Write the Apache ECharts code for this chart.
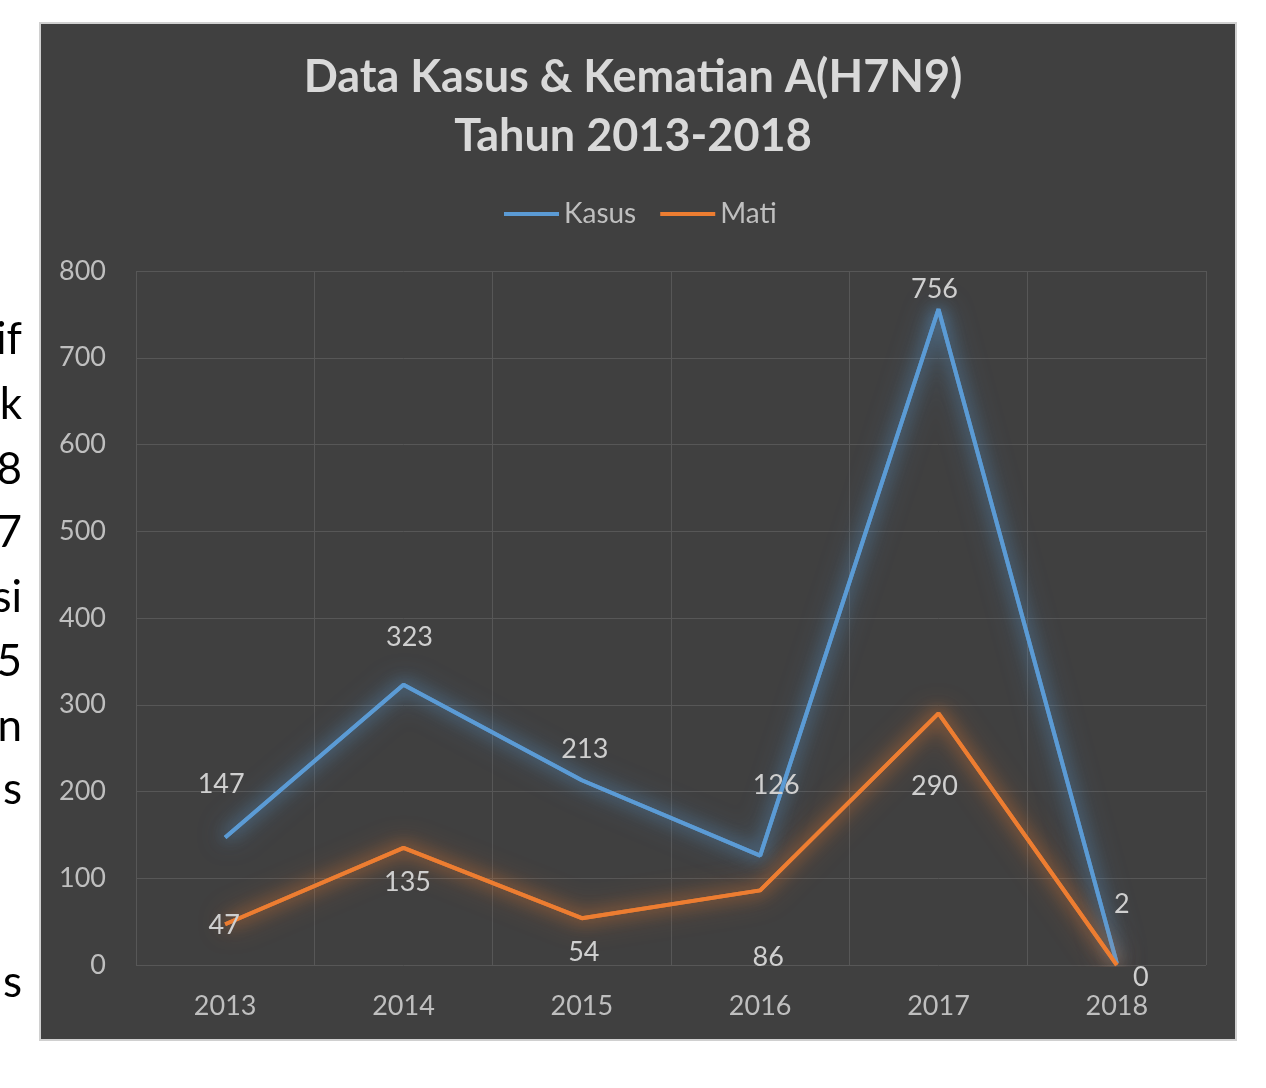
<!DOCTYPE html>
<html><head><meta charset="utf-8">
<script src="https://cdn.jsdelivr.net/npm/echarts@6/dist/echarts.min.js"></script>
<style>html,body{margin:0;padding:0;background:#fff}#c{width:1266px;height:1088px}</style>
</head><body><div id="c"></div>
<script>
const years = ['2013','2014','2015','2016','2017','2018'];
const kasus = [147, 323, 213, 126, 756, 2];
const mati = [47, 135, 54, 86, 290, 0];
const yTicks = [0, 100, 200, 300, 400, 500, 600, 700, 800];
const sideText = ['if','k','8','7','si','5','n','s','s'];

// label offsets (layout only)
const kasusOff = [[-4,-53],[6,-48],[3,-31],[16,-70],[-4,-20],[5,-59]];
const matiOff = [[-1,1],[4,34],[2,34],[8,67],[-4,73],[24,12]];
const sideY = [340,405,470,533,598,662,727,790,983];

const chart = echarts.init(document.getElementById('c'), null, {renderer:'canvas'});
const F = 'Lato, "Open Sans", sans-serif';
function mk(vals, offs){
  return vals.map((v,i)=>({value:v, label:{offset:offs[i]}}));
}
const graphics = [
  {type:'rect', z:-10, shape:{x:40,y:23,width:1196,height:1017}, style:{fill:'#404040', stroke:'#d0d0d0', lineWidth:2}}
];
sideText.forEach((t,i)=>graphics.push({type:'text', z:-10, x:22, y:sideY[i], style:{text:t, fill:'#000', font:'44px '+F, textAlign:'right', textVerticalAlign:'middle'}}));

function glow(name, vals, color, blur){
  return {name:name+'_glow', type:'line', data:vals, symbol:'none', silent:true, z:1,
    lineStyle:{color:color, width:4, shadowBlur:blur, shadowColor:color}, label:{show:false}};
}

chart.setOption({
  backgroundColor:'#ffffff',
  animation:false,
  graphic: graphics,
  title:{
    text:'Data Kasus & Kematian A(H7N9)\nTahun 2013-2018',
    left:'center', top:43,
    textStyle:{color:'#d9d9d9', fontFamily:F, fontWeight:'bold', fontSize:45, lineHeight:59}
  },
  legend:{
    top:195, left:499, itemWidth:55, itemHeight:4, itemGap:24,
    icon:'rect',
    textStyle:{color:'#bfbfbf', fontFamily:F, fontSize:28},
    data:['Kasus','Mati']
  },
  grid:{left:136, right:60, top:271, bottom:123, containLabel:false},
  xAxis:{
    type:'category', data:years, boundaryGap:true,
    axisLine:{show:false}, axisTick:{show:false},
    axisLabel:{color:'#bfbfbf', fontFamily:F, fontSize:27, margin:28},
    splitLine:{show:true, lineStyle:{color:'#575757', width:1}}
  },
  yAxis:{
    type:'value', min:0, max:800, interval:100,
    axisLine:{show:false}, axisTick:{show:false},
    axisLabel:{color:'#bfbfbf', fontFamily:F, fontSize:27, margin:30},
    splitLine:{show:true, lineStyle:{color:'#575757', width:1}}
  },
  series:[
    glow('Kasus', kasus, 'rgba(91,155,213,0.9)', 28),
    glow('Mati', mati, 'rgba(237,125,49,0.9)', 28),
    {name:'Kasus', type:'line', data:mk(kasus,kasusOff), symbol:'circle', symbolSize:0.1, z:3,
     itemStyle:{color:'#5b9bd5'},
     lineStyle:{color:'#5b9bd5', width:4, shadowBlur:16, shadowColor:'rgba(91,155,213,0.8)'},
     label:{show:true, position:'inside', color:'#cfcfcf', fontFamily:F, fontSize:27}},
    {name:'Mati', type:'line', data:mk(mati,matiOff), symbol:'circle', symbolSize:0.1, z:3,
     itemStyle:{color:'#ed7d31'},
     lineStyle:{color:'#ed7d31', width:4, shadowBlur:16, shadowColor:'rgba(237,125,49,0.8)'},
     label:{show:true, position:'inside', color:'#cfcfcf', fontFamily:F, fontSize:27}}
  ]
});
</script></body></html>
